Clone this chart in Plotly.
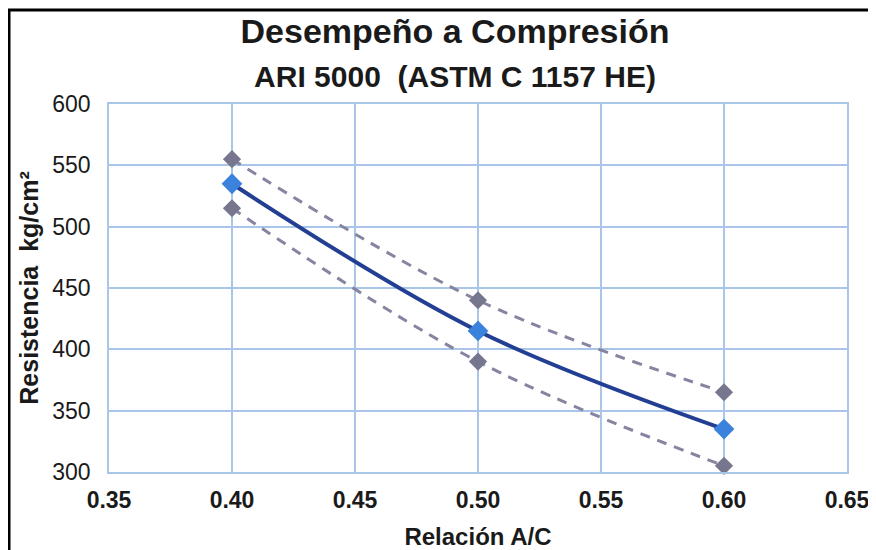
import plotly.graph_objects as go

relacion = [0.40, 0.50, 0.60]
resistencia_media = [535, 415, 335]
resistencia_sup = [555, 440, 365]
resistencia_inf = [515, 390, 305]

x_ticks = [0.35, 0.40, 0.45, 0.50, 0.55, 0.60, 0.65]
x_tick_text = ["0.35", "0.40", "0.45", "0.50", "0.55", "0.60", "0.65"]
y_ticks = [300, 350, 400, 450, 500, 550, 600]

fig = go.Figure()
for ys in (resistencia_sup, resistencia_inf):
    fig.add_trace(go.Scatter(
        x=relacion, y=ys, mode="lines+markers", line_shape="spline",
        line=dict(color="#8585a2", width=3, dash="10px,8px"),
        marker=dict(symbol="diamond", size=14, color="#76768e"),
        showlegend=False, cliponaxis=False))
fig.add_trace(go.Scatter(
    x=relacion, y=resistencia_media, mode="lines+markers", line_shape="spline",
    line=dict(color="#233f94", width=4),
    marker=dict(symbol="diamond", size=16, color="#3a82db"),
    showlegend=False, cliponaxis=False))

# page body has an 8px margin, so the figure is placed at (8, 8)
OFF = 8
W, H = 876 - OFF, 550 - OFF
L, R, T, B = 109 - OFF, 29, 104 - OFF, 78
pw, ph = W - L - R, H - T - B
def px(x):
    return (x - OFF - L) / pw
def py(y):
    return (H - B - (y - OFF)) / ph

shapes = [
    dict(type="line", xref="paper", yref="paper", x0=px(9), x1=px(9), y0=py(10), y1=py(560),
         line=dict(color="black", width=3)),
    dict(type="line", xref="paper", yref="paper", x0=px(8), x1=px(876), y0=py(10), y1=py(10),
         line=dict(color="black", width=3)),
    dict(type="line", xref="paper", yref="paper", x0=px(871), x1=px(871), y0=py(10), y1=py(560),
         line=dict(color="black", width=3)),
]

fig.update_layout(
    width=W, height=H,
    margin=dict(l=L, r=R, t=T, b=B, autoexpand=False),
    paper_bgcolor="white", plot_bgcolor="white",
    font=dict(family="Liberation Sans, Arial, sans-serif", color="#1a1a1a"),
    title=dict(text="<b>Desempeño a Compresión<br><span style='font-size:30px'>ARI 5000  (ASTM C 1157 HE)</span></b>",
               x=(455 - OFF) / W, xanchor="center", y=1 - 35 / H, yanchor="middle",
               font=dict(size=34, color="#1a1a1a")),
    shapes=shapes,
    xaxis=dict(range=[0.35, 0.65], tickvals=x_ticks, ticktext=["<b>%s</b>" % t for t in x_tick_text],
               showgrid=True, gridcolor="#a9c6e8", gridwidth=1.5,
               showline=True, linecolor="#a9c6e8", linewidth=1.5, mirror=True,
               zeroline=False, ticks="", tickfont=dict(size=23), ticklabelstandoff=7,
               automargin=False,
               title=dict(text="<b>Relación A/C</b>", font=dict(size=24), standoff=16)),
    yaxis=dict(range=[300, 600], tickvals=y_ticks,
               showgrid=True, gridcolor="#a9c6e8", gridwidth=1.5,
               showline=True, linecolor="#a9c6e8", linewidth=1.5, mirror=True,
               zeroline=False, ticks="", tickfont=dict(size=23), ticklabelstandoff=12,
               automargin=False,
               title=dict(text="<b>Resistencia  kg/cm²</b>", font=dict(size=25), standoff=7)),
)
fig.write_html("out.html")
